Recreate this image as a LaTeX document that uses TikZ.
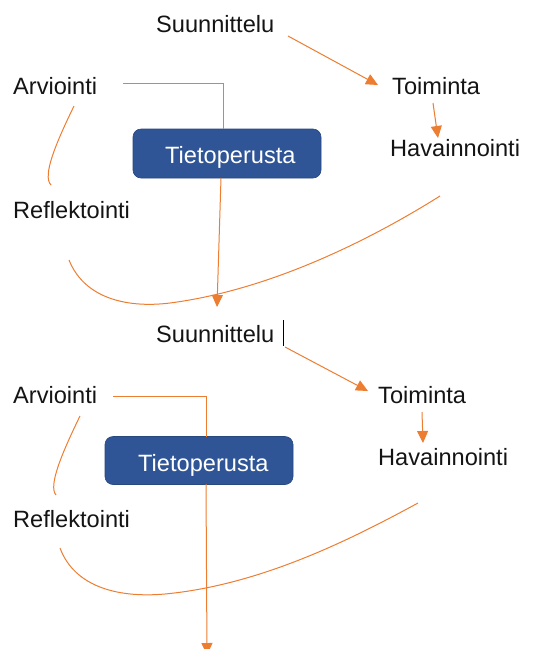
\documentclass[tikz,border=0pt]{standalone}
\usepackage{fontspec}
\setmainfont{Liberation Sans}
\usetikzlibrary{arrows.meta}
\definecolor{orng}{RGB}{237,125,49}
\definecolor{boxblue}{RGB}{47,85,151}
\definecolor{txt}{RGB}{20,20,20}
\tikzset{
  lbl/.style={inner sep=0pt, anchor=base west, text=txt, font=\fontsize{23.6}{28}\selectfont},
  kbox/.style={draw=boxblue!85!black, line width=0.6pt, fill=boxblue, rounded corners=8pt, inner sep=0pt},
  ktext/.style={inner sep=0pt, anchor=base west, text=white, font=\fontsize{23.6}{28}\selectfont},
  conn/.style={draw=orng, line width=1pt},
  arr/.style={conn, -{Triangle[length=12pt,width=11pt]}},
}
\begin{document}
\begin{tikzpicture}[x=1pt,y=-1pt]
\useasboundingbox (0,0) rectangle (534,649);

% ---------- top cycle ----------
\node[lbl] (suu1) at (156,32) {Suunnittelu};
\node[lbl] (toi1) at (392,94) {Toiminta};
\node[lbl] (hav1) at (390,156) {Havainnointi};
\node[lbl] (arv1) at (13,94) {Arviointi};
\node[lbl] (ref1) at (13,218) {Reflektointi};
\node[kbox, minimum width=188pt, minimum height=49pt] (box1) at (227,153.5) {};
\node[ktext] (tp1) at (165,163) {Tietoperusta};

\coordinate (s1a) at (288,36);   \coordinate (s1b) at (378,85);
\coordinate (t1a) at (433,103);  \coordinate (t1b) at (438,138);
\coordinate (a1a) at (123,83);   \coordinate (a1c) at (223,83);
\coordinate (b1a) at (223,129);  \coordinate (b1b) at (221,178);
\coordinate (tip1) at (217,307);
\coordinate (r1a) at (74,106);   \coordinate (r1b) at (51,185);
\coordinate (c1a) at (69,260);   \coordinate (c1m) at (170,303);
\coordinate (c1b) at (440,196);

\draw[arr] (s1a) -- (s1b);
\draw[arr] (t1a) -- (t1b);
\draw[conn] (a1a) -- (a1c) -- (b1a);
\draw[arr] (b1b) -- (tip1);
\draw[conn] (r1a) .. controls (56,143) and (42,176) .. (r1b);
\draw[conn] (c1a) .. controls (85,300) and (130,308) .. (c1m)
                  .. controls (270,290) and (370,240) .. (c1b);

% ---------- bottom cycle ----------
\node[lbl] (suu2) at (156,342) {Suunnittelu};
\node[lbl] (toi2) at (378,403) {Toiminta};
\node[lbl] (hav2) at (378,465) {Havainnointi};
\node[lbl] (arv2) at (13,403) {Arviointi};
\node[lbl] (ref2) at (13,527) {Reflektointi};
\node[kbox, minimum width=188pt, minimum height=48pt] (box2) at (199,460.5) {};
\node[ktext] (tp2) at (138,471) {Tietoperusta};

\coordinate (cur1) at (283,320); \coordinate (cur2) at (283,346);
\draw[black, line width=0.8pt] (cur1) -- (cur2);

\coordinate (s2a) at (285,347);  \coordinate (s2b) at (368,391);
\coordinate (t2a) at (422,412);  \coordinate (t2b) at (423,443);
\coordinate (a2a) at (113,396);  \coordinate (a2c) at (206,396);
\coordinate (b2a) at (206,437);  \coordinate (b2b) at (206,484);
\coordinate (tip2) at (207,655);
\coordinate (r2a) at (80,416);   \coordinate (r2b) at (56,495);
\coordinate (c2a) at (60,548);   \coordinate (c2m) at (165,594);
\coordinate (c2b) at (418,503);

\draw[arr] (s2a) -- (s2b);
\draw[arr] (t2a) -- (t2b);
\draw[conn] (a2a) -- (a2c) -- (b2a);
\draw[arr] (b2b) -- (tip2);
\draw[conn] (r2a) .. controls (62,453) and (48,486) .. (r2b);
\draw[conn] (c2a) .. controls (75,588) and (120,598) .. (c2m)
                  .. controls (260,585) and (350,540) .. (c2b);
\end{tikzpicture}
\end{document}
